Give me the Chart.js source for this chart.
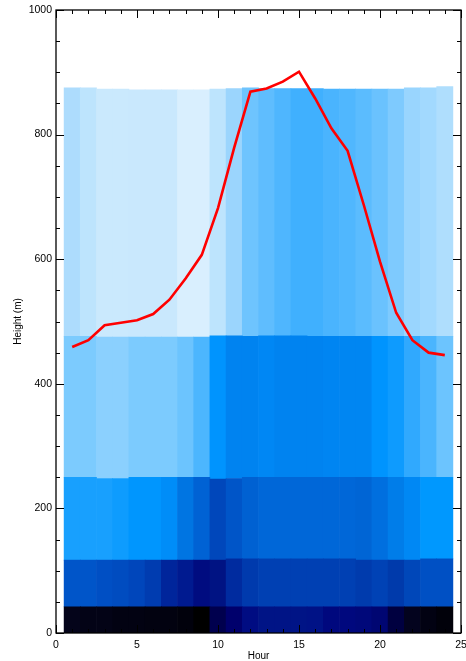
<!DOCTYPE html>
<html>
<head>
<meta charset="utf-8">
<script src="https://cdn.jsdelivr.net/npm/chart.js@4.4.1/dist/chart.umd.min.js"></script>
<style>
  html, body { margin: 0; padding: 0; background: #fff; }
  #wrap { width: 466px; height: 661px; position: relative; }
</style>
</head>
<body>
<div id="wrap"><canvas id="chart"></canvas></div>
<script>
// hours of the day (one column each)
const hours = [1, 2, 3, 4, 5, 6, 7, 8, 9, 10, 11, 12, 13, 14, 15, 16, 17, 18, 19, 20, 21, 22, 23, 24];

// top height (m) of each layer, per hour
const top1 = [42, 42, 42, 42, 42, 42, 42, 42, 42, 42, 42, 42, 42, 42, 42, 42, 42, 42, 42, 42, 42, 42, 42, 42];
const top2 = [117, 117, 117, 117, 117, 117, 117, 117, 117, 117, 119, 119, 119, 119, 119, 119, 119, 119, 117, 117, 117, 117, 119, 119];
const top3 = [250, 250, 248, 248, 250, 250, 250, 250, 250, 247, 248, 250, 250, 250, 250, 250, 250, 250, 250, 250, 250, 250, 250, 250];
const top4 = [476, 476, 475, 475, 475, 475, 475, 475, 475, 477, 477, 476, 477, 477, 477, 476, 476, 476, 476, 476, 476, 476, 476, 476];
const top5 = [875, 875, 873, 873, 872, 872, 872, 872, 872, 873, 874, 875, 874, 874, 874, 874, 873, 873, 873, 873, 873, 875, 875, 877];

// cell colours per layer, per hour
const col1 = ['#04041a', '#030316', '#030316', '#020212', '#020212', '#020210', '#020210', '#01010c', '#000000', '#00004e', '#00006c', '#000c82',
              '#001486', '#001486', '#001486', '#001286', '#00087e', '#00087e', '#00087a', '#000672', '#000040', '#03031e', '#020212', '#01010a'];
const col2 = ['#0055c9', '#0055c9', '#004fc4', '#004cc0', '#0046bb', '#003cb0', '#00259b', '#001a90', '#000c80', '#001383', '#002b9f', '#003aad',
              '#0040b3', '#0040b3', '#0040b3', '#0040b3', '#0040b3', '#0040b3', '#003bad', '#0042b5', '#003aab', '#0047b9', '#0050c4', '#0050c4'];
const col3 = ['#18a0fe', '#18a0fe', '#18a0fe', '#0e9cfe', '#0096fe', '#0096fe', '#008df8', '#0075e2', '#0062d4', '#0047bb', '#0055c8', '#0061d2',
              '#0067d8', '#0067d8', '#0067d8', '#0067d8', '#0067d8', '#0067d8', '#0065d5', '#006fdf', '#007de9', '#0088f4', '#0098fe', '#0098fe'];
const col4 = ['#7ccbfe', '#7ccbfe', '#8bd0fe', '#8bd0fe', '#7ccbfe', '#7ccbfe', '#7ccbfe', '#6cc4fe', '#4cb6fe', '#0094fe', '#0083f0', '#0083f0',
              '#0087f4', '#0083f0', '#0083f0', '#0083f0', '#0085f2', '#0086f2', '#0086f2', '#0094fe', '#0e9bfe', '#30a9fe', '#4ab5fe', '#6cc4fe'];
const col5 = ['#addcfd', '#bde4fd', '#cae9fd', '#cae9fd', '#c9e8fd', '#c9e8fd', '#c9e8fd', '#d9effe', '#d9effe', '#bde4fd', '#9bd5fd', '#6ec4fe',
              '#5fbdfe', '#4fb6fe', '#40b0fe', '#40b0fe', '#4ab4fe', '#50b7fe', '#5bbcfe', '#6ac2fe', '#7ecafe', '#99d5fe', '#a2d9fe', '#afdefd'];

// red line: height (m) per hour
const lineHeight = [459, 470, 494, 498, 502, 512, 535, 569, 607, 682, 779, 869, 874, 885, 901, 858, 810, 774, 687, 596, 514, 470, 450, 446];

const xTicks = { min: 0, max: 25, major: 5 };
const yTicks = { min: 0, max: 1000, major: 200, minor: 50 };

const font = "'Liberation Sans', Arial, Helvetica, sans-serif";

function layer(lo, hi, colors) {
  return {
    type: 'bar',
    data: hours.map((h, i) => ({ x: h, y: [lo ? lo[i] : 0, hi[i]] })),
    backgroundColor: colors,
    borderWidth: 0,
    grouped: false,
    barPercentage: 1,
    categoryPercentage: 1,
    order: 1
  };
}

// draws the frame and inward tick marks from the scales
const frame = {
  id: 'frame',
  afterDatasetsDraw(chart) {
    const { ctx, chartArea: a, scales: { x, y } } = chart;
    ctx.save();
    ctx.strokeStyle = '#000';
    ctx.lineWidth = 1;
    ctx.beginPath();
    x.ticks.forEach(t => {
      const px = Math.round(x.getPixelForValue(t.value)) + 0.5;
      const len = t.value % xTicks.major === 0 ? 8 : 4;
      ctx.moveTo(px, a.bottom); ctx.lineTo(px, a.bottom - len);
      ctx.moveTo(px, a.top); ctx.lineTo(px, a.top + len);
    });
    y.ticks.forEach(t => {
      const py = Math.round(y.getPixelForValue(t.value)) + 0.5;
      const len = t.value % yTicks.major === 0 ? 8 : 4;
      ctx.moveTo(a.left, py); ctx.lineTo(a.left + len, py);
      ctx.moveTo(a.right, py); ctx.lineTo(a.right - len, py);
    });
    ctx.stroke();
    ctx.lineWidth = 1.3;
    ctx.strokeRect(a.left, a.top, a.right - a.left, a.bottom - a.top);
    ctx.restore();
  }
};

new Chart(document.getElementById('chart'), {
  data: {
    datasets: [
      {
        type: 'line',
        data: hours.map((h, i) => ({ x: h, y: lineHeight[i] })),
        borderColor: '#ff0000',
        borderWidth: 2.6,
        pointRadius: 0,
        tension: 0,
        fill: false,
        order: 0
      },
      layer(null, top1, col1),
      layer(top1, top2, col2),
      layer(top2, top3, col3),
      layer(top3, top4, col4),
      layer(top4, top5, col5)
    ]
  },
  options: {
    responsive: true,
    maintainAspectRatio: false,
    animation: false,
    events: [],
    layout: { autoPadding: false, padding: { top: 10, right: 5, left: 0, bottom: 0 } },
    plugins: { legend: { display: false }, tooltip: { enabled: false } },
    scales: {
      x: {
        type: 'linear',
        min: xTicks.min,
        max: xTicks.max,
        offset: false,
        grid: { display: false, drawTicks: false },
        border: { display: false },
        ticks: {
          stepSize: 1,
          autoSkip: false,
          maxRotation: 0,
          padding: 6,
          color: '#000',
          font: { family: font, size: 10.5 },
          callback: v => (v % xTicks.major === 0 ? String(v) : '')
        },
        title: { display: true, text: 'Hour', color: '#000', font: { family: font, size: 10, lineHeight: 1 }, padding: 0 },
        afterFit: s => { s.height = 28; s.paddingLeft = 0; s.paddingRight = 0; }
      },
      y: {
        min: yTicks.min,
        max: yTicks.max,
        grid: { display: false, drawTicks: false },
        border: { display: false },
        ticks: {
          stepSize: yTicks.minor,
          autoSkip: false,
          padding: 4,
          color: '#000',
          font: { family: font, size: 10.5 },
          callback: v => (v % yTicks.major === 0 ? String(v) : '')
        },
        title: { display: true, text: 'Height (m)', color: '#000', font: { family: font, size: 10, lineHeight: 1.2 }, padding: { top: 12, bottom: 0 } },
        afterFit: s => { s.width = 56; s.paddingTop = 0; s.paddingBottom = 0; }
      }
    }
  },
  plugins: [frame]
});
</script>
</body>
</html>
